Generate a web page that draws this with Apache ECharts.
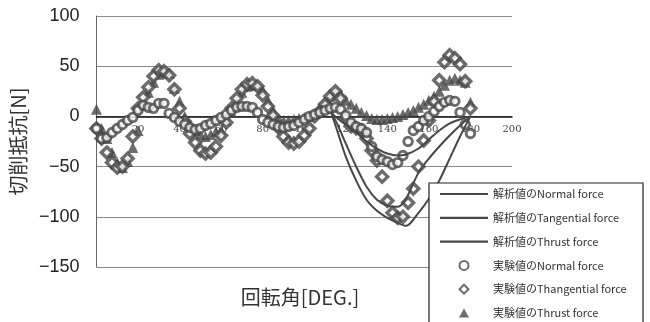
<!DOCTYPE html>
<html>
<head>
<meta charset="utf-8">
<script src="https://cdn.jsdelivr.net/npm/echarts@6/dist/echarts.min.js"></script>
<style>
  html, body { margin: 0; padding: 0; background: #fff; }
  #chart { width: 650px; height: 322px; }
</style>
</head>
<body>
<div id="chart"></div>
<script>
// Rotation angle [deg] of the measured samples
const angles = [0,2.5,5,7.5,10,12.5,15,17.5,20,22.5,25,27.5,30,32.5,35,37.5,40,42.5,45,47.5,50,52.5,55,57.5,60,62.5,65,67.5,70,72.5,75,77.5,80,82.5,85,87.5,90,92.5,95,97.5,100,102.5,105,107.5,110,112.5,115,117.5,120,122.5,125,127.5,130,132.5,135,137.5,140,142.5,145,147.5,150,152.5,155,157.5,160,162.5,165,167.5,170,172.5,175,177.5,180];

// Measured forces [N]
const normalExp = [-12,-22,-21,-16,-12,-8,-4,-1,6,11,
  9,8,13,13,3,-1,-5,-8,-11,-13,
  -12,-9,-7,-4,-1,2,6,9,10,10,
  9,4,-3,-6,-8,-10,-11,-10,-9,-6,
  -3,0,2,4,6,8,9,7,1,-6,
  -10,-12,-16,-30,-40,-43,-45,-48,-46,-39,
  -25,-14,-10,-4,0,5,10,14,16,15,
  4,-8,-17];
const tangentialExp = [-12,-22,-36,-46,-51,-50,-42,-20,8,19,
  29,40,46,45,41,27,8,-5,-17,-26,
  -34,-37,-36,-30,-19,-6,8,18,27,32,
  33,30,21,10,1,-11,-20,-26,-27,-25,
  -19,-12,0,5,12,20,25,18,-2,-10,
  -12,-14,-22,-34,-44,-60,-84,-96,-101,-100,
  -86,-72,-50,-24,-4,15,36,54,61,58,
  52,35,8];
const thrustExp = [7,-12,-22,-36,-46,-51,-45,-31,-14,12,
  24,34,42,45,43,28,15,0,-8,-14,
  -18,-20,-18,-15,-14,-4,4,14,24,30,
  32,31,26,16,6,-2,-4,-4,-3,-2,
  -1,0,3,8,14,20,24,22,16,12,
  8,4,1,-2,-3,-3,-2,-1,0,2,
  4,6,9,12,16,20,25,31,36,38,
  36,34,14];

// Analytical forces [N] over the cutting interval
const anaAngles = [113,116,120,125,130,135,140,145,149,155,160,165,170,175,180];
const normalAna = [4,-2,-8,-16,-25,-32,-37,-39,-38,-32,-23,-14,-7,-3,0];
const tangentialAna = [4,-15,-40,-64,-83,-94,-101,-106,-109,-96,-82,-64,-42,-20,0];
const thrustAna = [4,-8,-27,-50,-70,-83,-89,-90,-82,-56,-42,-30,-19,-9,0];

// Axis ticks
const yTicks = { min: -150, max: 100, step: 50 };
const xTicks = { min: 0, max: 200, step: 20 };

const names = [
  '解析値のNormal force',
  '解析値のTangential force',
  '解析値のThrust force',
  '実験値のNormal force',
  '実験値のThangential force',
  '実験値のThrust force'
];

const ink = '#474747';
const pair = (xs, ys) => xs.map((x, i) => [x, ys[i]]);

const grid = { left: 87, right: 138, top: 16, bottom: 55 };
const plotH = 322 - grid.top - grid.bottom;
// lift the x axis from the bottom edge up to the zero line
const zeroOffset = -plotH * (0 - yTicks.min) / (yTicks.max - yTicks.min);

const lineSeries = (name, ys) => ({
  name, type: 'line', data: pair(anaAngles, ys),
  symbol: 'none', smooth: 0.3, z: 4,
  lineStyle: { color: ink, width: 2 },
  itemStyle: { color: ink }
});

const hollow = w => ({ color: '#fff', borderColor: ink, borderWidth: w });

// legend glyphs, kept square so they are not stretched to the line length
const icons = {
  line: 'path://M0,0H48V2.2H0Z',
  diamond: 'path://M5,0L10,5L5,10L0,5Z',
  triangle: 'path://M5,0L10,9L0,9Z'
};

const chart = echarts.init(document.getElementById('chart'), null, { renderer: 'canvas' });
chart.setOption({
  animation: false,
  backgroundColor: '#fff',
  grid,
  xAxis: {
    type: 'value', min: xTicks.min, max: xTicks.max, interval: xTicks.step,
    offset: zeroOffset,
    axisLine: { onZero: false, lineStyle: { color: '#111', width: 1.5 } },
    axisTick: { show: false },
    splitLine: { show: false },
    axisLabel: { color: '#444', fontSize: 10, margin: 8, fontFamily: 'DejaVu Serif' }
  },
  yAxis: {
    type: 'value', min: yTicks.min, max: yTicks.max, interval: yTicks.step,
    name: '切削抵抗[N]', nameLocation: 'middle', nameGap: 67,
    nameTextStyle: { fontSize: 20, color: '#333', fontFamily: 'Noto Sans CJK JP' },
    axisLine: { show: true, lineStyle: { color: '#666', width: 1 } },
    axisTick: { show: false },
    splitLine: { lineStyle: { color: '#8a8a8a', width: 1 } },
    axisLabel: {
      color: '#222', fontSize: 18, margin: 17, fontFamily: 'Liberation Sans',
      formatter: v => String(v).replace('-', '\u2212')
    }
  },
  graphic: [
    { type: 'rect', z: 50, shape: { x: 429, y: 183, width: 214, height: 160 },
      style: { fill: '#fff', stroke: '#222', lineWidth: 1.2 } },
    { type: 'text', z: 50, x: 300, y: 297,
      style: { text: '回転角[DEG.]', align: 'center', verticalAlign: 'middle',
               font: '20px "Noto Sans CJK JP"', fill: '#333' } }
  ],
  legend: {
    orient: 'vertical', left: 440, top: 187, z: 60, padding: 0,
    itemWidth: 48, itemHeight: 9, itemGap: 9.8, symbolKeepAspect: true,
    textStyle: { fontSize: 11, color: '#333', lineHeight: 14, fontFamily: 'Noto Sans CJK JP' },
    data: [
      { name: names[0], icon: icons.line },
      { name: names[1], icon: icons.line },
      { name: names[2], icon: icons.line },
      { name: names[3], icon: 'circle' },
      { name: names[4], icon: icons.diamond },
      { name: names[5], icon: icons.triangle }
    ]
  },
  series: [
    { name: names[5], type: 'scatter', data: pair(angles, thrustExp), symbol: 'triangle',
      symbolSize: 11, itemStyle: { color: ink }, z: 2 },
    { name: names[4], type: 'scatter', data: pair(angles, tangentialExp), symbol: 'diamond',
      symbolSize: 11, itemStyle: hollow(3.4), z: 2 },
    { name: names[3], type: 'scatter', data: pair(angles, normalExp), symbol: 'circle',
      symbolSize: 8.5, itemStyle: hollow(2.9), z: 3 },
    lineSeries(names[0], normalAna),
    lineSeries(names[1], tangentialAna),
    lineSeries(names[2], thrustAna)
  ]
});
</script>
</body>
</html>
